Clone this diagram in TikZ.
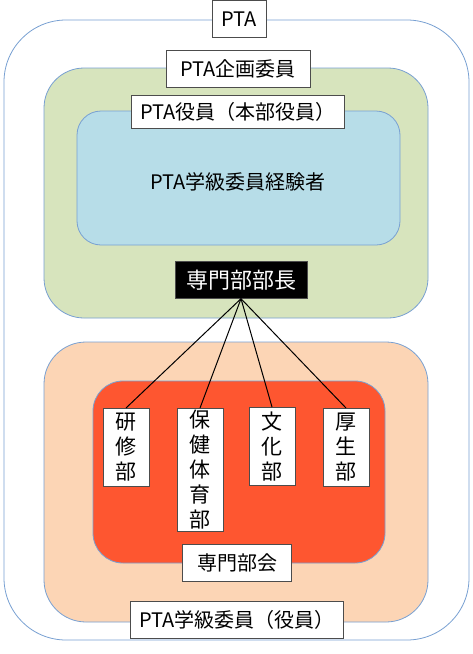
\documentclass[tikz,border=0pt]{standalone}
\usepackage{fontspec}
\setmainfont{Noto Sans CJK JP}
\usetikzlibrary{positioning}

\definecolor{frameblue}{RGB}{120,160,210}
\definecolor{kikaku}{RGB}{215,228,189}
\definecolor{yakuin}{RGB}{183,221,232}
\definecolor{gakkyu}{RGB}{252,213,181}
\definecolor{senmon}{RGB}{254,86,48}

\tikzset{
  area/.style={draw=frameblue, line width=0.8pt},
  tag/.style={draw=black!70, fill=white, inner sep=0pt, minimum height=37pt,
    font=\fontsize{20}{23}\selectfont},
  bu/.style={draw=black!70, fill=white, inner sep=0pt, minimum width=46pt,
    anchor=north, align=center, font=\fontsize{21}{25}\selectfont},
  tie/.style={black, line width=1pt}
}

\begin{document}
\begin{tikzpicture}[x=1pt,y=-1pt]
  \useasboundingbox (0,0) rectangle (473,654);
  % areas
  \draw[area, fill=white, rounded corners=62pt] (4,20) rectangle (469,640);
  \draw[area, fill=kikaku, rounded corners=40pt] (44,68) rectangle (428,318);
  \draw[area, fill=yakuin, rounded corners=24pt] (77,111) rectangle (400,245);
  \draw[area, fill=gakkyu, rounded corners=42pt] (44,342) rectangle (428,622);
  \draw[area, fill=senmon, rounded corners=30pt] (93,381) rectangle (385,563);

  % labels
  \node[tag, minimum width=54pt] (pta) at (239,19) {PTA};
  \node[tag, minimum width=144pt] (kikakuiin) at (238,69) {PTA企画委員};
  \node[tag, minimum width=213pt, minimum height=33pt] (honbu) at (238,112) {PTA役員（本部役員）};
  \node[font=\fontsize{20}{23}\selectfont] (keiken) at (238,182) {PTA学級委員経験者};
  \node[tag, fill=black, text=white, minimum width=132pt, font=\fontsize{22}{24}\selectfont] (bucho) at (241,280) {専門部部長};
  \node[tag, minimum width=109pt] (bukai) at (237,563) {専門部会};
  \node[tag, minimum width=213pt] (gakkyuiin) at (237,620) {PTA学級委員（役員）};

  % departments
  \node[bu, minimum height=78pt] (kenshu) at (126,408) {研\\修\\部};
  \node[bu, minimum height=123pt] (hoken) at (200,408) {保\\健\\体\\育\\部};
  \node[bu, minimum height=78pt] (bunka) at (272,407) {文\\化\\部};
  \node[bu, minimum height=78pt] (kosei) at (346,408) {厚\\生\\部};

  \foreach \b in {kenshu,hoken,bunka,kosei}
    \draw[tie] (bucho.south) -- (\b.north);
\end{tikzpicture}
\end{document}
